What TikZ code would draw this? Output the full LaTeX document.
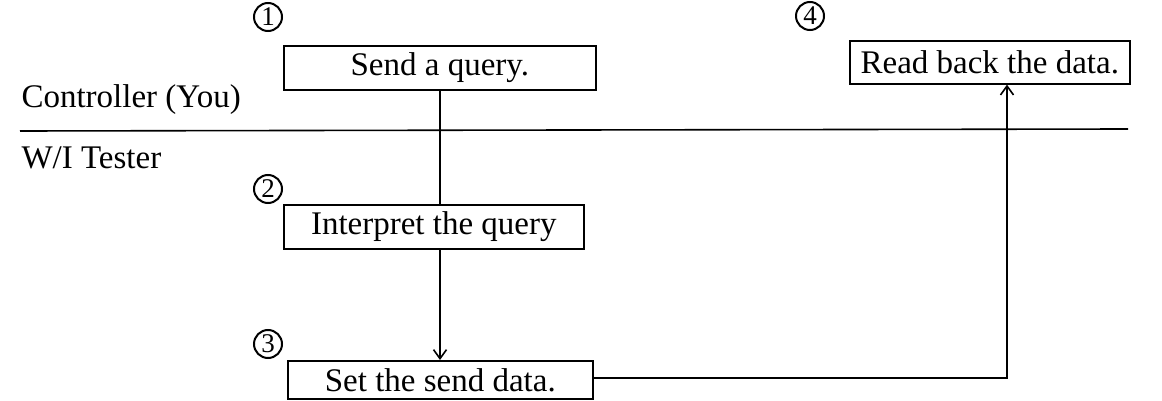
\documentclass[tikz,border=0pt]{standalone}
\usepackage{fontspec}
\setmainfont{Liberation Serif}
\usetikzlibrary{arrows.meta}
\begin{document}
\begin{tikzpicture}[x=1pt,y=-1pt,
  every node/.style={font=\fontsize{33}{36}\selectfont},
  stepbox/.style={draw,line width=1.6pt,inner sep=0pt,anchor=north west},
  num/.style={draw,circle,line width=2pt,minimum size=28pt,inner sep=0pt,font=\fontsize{27}{29}\selectfont},
  conn/.style={line width=1.6pt},
  arr/.style={conn,-{Straight Barb[length=9pt,width=13pt,line width=1.6pt]}}]
\useasboundingbox (0,0) rectangle (1162,401);
\node[stepbox,minimum width=312pt,minimum height=44pt] (b1) at (283,45) {Send a query.};
\node[stepbox,minimum width=280pt,minimum height=43pt] (b4) at (849,40) {Read back the data.};
\node[stepbox,minimum width=300pt,minimum height=44pt] (b2) at (283,204) {Interpret the query};
\node[stepbox,minimum width=305pt,minimum height=38pt] (b3) at (287,360) {Set the send data.};
\node[num] (n1) at (268,17) {1};
\node[num] (n2) at (268,189) {2};
\node[num] (n3) at (268,344) {3};
\node[num] (n4) at (810,16) {4};
\node[anchor=west] (ctl) at (18,100) {Controller (You)};
\node[anchor=west] (wit) at (18,158) {W/I Tester};
\coordinate (ll) at (20,131);
\coordinate (lr) at (1128,129);
\draw[conn] (ll) -- (lr);
\draw[conn] (b1.south -| 440,0) -- (b2.north -| 440,0);
\draw[arr] (b2.south -| 440,0) -- (b3.north -| 440,0);
\coordinate (c3) at (1007,378);
\draw[arr] (b3.east |- c3) -- (c3) -- (b4.south -| c3);
\end{tikzpicture}
\end{document}
